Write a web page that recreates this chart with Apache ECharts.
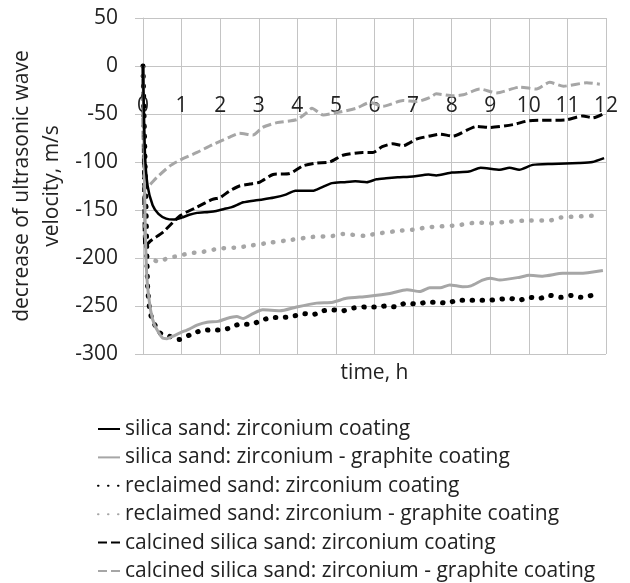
<!DOCTYPE html>
<html>
<head>
<meta charset="utf-8">
<script src="https://cdn.jsdelivr.net/npm/echarts@6/dist/echarts.min.js"></script>
<style>html,body{margin:0;padding:0;background:#fff}#c{width:630px;height:583px}</style>
</head>
<body>
<div id="c"></div>
<script>
const seriesNames = [
  'silica sand: zirconium coating',
  'silica sand: zirconium - graphite coating',
  'reclaimed sand: zirconium coating',
  'reclaimed sand: zirconium - graphite coating',
  'calcined silica sand: zirconium coating',
  'calcined silica sand: zirconium - graphite coating'
];
const xTicks = [0, 12, 1];      // min, max, interval (h)
const yTicks = [-300, 50, 50];  // min, max, interval (m/s)

const silicaZr = [[0,0],[0.05,-90],[0.12,-125],[0.25,-145],[0.4,-154],[0.6,-159],[0.8,-160],[1.0,-158],[1.2,-155],[1.4,-153],[1.7,-152],[1.9,-151],[2.1,-149],[2.3,-147],[2.6,-142],[2.9,-140],[3.1,-139],[3.4,-137],[3.7,-134],[3.95,-130],[4.4,-130],[4.6,-127],[4.9,-122],[5.2,-121],[5.5,-120],[5.8,-121],[6.05,-118],[6.3,-117],[6.6,-116],[7.0,-115],[7.4,-113],[7.6,-114],[8.0,-111],[8.45,-110],[8.75,-106],[9.25,-108],[9.5,-106],[9.75,-108],[10.1,-103],[10.6,-102],[11.3,-101],[11.65,-100],[11.95,-96]];
const silicaZrGr = [[0,0],[0.05,-150],[0.1,-220],[0.2,-255],[0.3,-270],[0.5,-283],[0.62,-284],[0.8,-281],[0.96,-278],[1.2,-274],[1.4,-270],[1.66,-267],[1.95,-266],[2.17,-263],[2.43,-261],[2.6,-263],[2.85,-258],[3.1,-254],[3.55,-255],[3.98,-251],[4.5,-247],[4.92,-246],[5.27,-242],[5.8,-240],[6.4,-237],[6.84,-233],[7.18,-235],[7.43,-231],[7.7,-231],[7.95,-228],[8.3,-230],[8.5,-229],[8.8,-223],[9.0,-221],[9.25,-223],[9.77,-220],[10.0,-218],[10.36,-219],[10.88,-216],[11.32,-216],[11.92,-213]];
const reclaimedZr = [[0,0],[0.08,-150],[0.12,-230],[0.18,-256],[0.26,-266],[0.44,-278],[0.65,-281],[0.93,-285],[1.22,-280],[1.48,-276],[1.74,-275],[2.0,-275],[2.25,-273],[2.5,-269],[2.8,-269],[3.07,-265],[3.34,-262],[3.6,-262],[3.86,-261],[4.15,-258],[4.4,-259],[4.67,-255],[4.92,-254],[5.18,-255],[5.47,-252],[5.75,-251],[6.0,-251],[6.3,-250],[6.56,-251],[6.8,-247],[7.1,-248],[7.36,-246],[7.6,-246],[7.88,-247],[8.15,-244],[8.4,-244],[8.68,-244],[8.94,-244],[9.22,-243],[9.5,-242],[9.75,-244],[10.0,-241],[10.28,-242],[10.55,-239],[10.83,-241],[11.1,-239],[11.35,-241],[11.63,-239]];
const reclaimedZrGr = [[0,0],[0.05,-150],[0.1,-198],[0.24,-201],[0.4,-204],[0.65,-200],[0.9,-198],[1.22,-195],[1.5,-194],[1.74,-192],[2.0,-190],[2.46,-189],[2.8,-187],[3.3,-184],[3.86,-181],[4.4,-178],[4.92,-177],[5.18,-175],[5.75,-177],[6.0,-175],[6.57,-172],[7.1,-170],[7.36,-168],[8.13,-166],[8.68,-163],[8.94,-164],[9.5,-162],[10.0,-161],[10.54,-161],[10.8,-158],[11.63,-156]];
const calcinedZr = [[0,0],[0.05,-188],[0.2,-182],[0.52,-173],[0.96,-156],[1.4,-147],[1.8,-139],[2.0,-137],[2.25,-130],[2.5,-125],[2.77,-123],[3.03,-121],[3.37,-113],[3.8,-112],[4.15,-104],[4.5,-101],[4.84,-100],[5.18,-93],[5.7,-90],[5.96,-90],[6.2,-84],[6.47,-81],[6.74,-83],[7.1,-76],[7.43,-73],[7.7,-71],[8.03,-73],[8.65,-63],[8.99,-64],[9.6,-61],[10.0,-57],[10.97,-56],[11.4,-52],[11.66,-54],[11.92,-50]];
const calcinedZrGr = [[0,0],[0.05,-128],[0.15,-125],[0.36,-116],[0.7,-104],[0.96,-98],[1.4,-90],[1.8,-82],[2.25,-74],[2.5,-70],[2.85,-72],[3.1,-64],[3.47,-59],[3.98,-56],[4.2,-50],[4.38,-44],[4.67,-51],[5.1,-48],[5.53,-44],[5.88,-38],[6.22,-42],[6.74,-36],[7.1,-37],[7.43,-33],[7.6,-29],[8.03,-31],[8.3,-30],[8.73,-24],[9.17,-28],[9.77,-22],[10.2,-24],[10.54,-17],[10.9,-21],[11.5,-17.5],[11.84,-19]];

const FONT = '"Open Sans"';
const FS = 21;
const BLACK = '#000000', GRAY = '#a6a6a6', GRID = '#c4c4c4', TXT = '#222222';
const styles = [
  {color: BLACK, width: 2.5, type: 'solid', cap: 'butt'},
  {color: GRAY, width: 3, type: 'solid', cap: 'butt'},
  {color: BLACK, width: 5, type: [0.5, 9.5], cap: 'round'},
  {color: GRAY, width: 4.5, type: [0.5, 9.5], cap: 'round'},
  {color: BLACK, width: 3, type: [9, 4], cap: 'butt'},
  {color: GRAY, width: 3, type: [9, 4], cap: 'butt'}
];
const datasets = [silicaZr, silicaZrGr, reclaimedZr, reclaimedZrGr, calcinedZr, calcinedZrGr];

const chart = echarts.init(document.getElementById('c'), null, {renderer: 'canvas'});
chart.setOption({
  animation: false,
  backgroundColor: '#ffffff',
  grid: {left: 143, right: 24, top: 18, bottom: 229, containLabel: false, outerBoundsMode: 'none'},
  xAxis: {
    type: 'value', min: xTicks[0], max: xTicks[1], interval: xTicks[2],
    position: 'bottom', offset: -288,
    name: 'time, h', nameLocation: 'middle', nameGap: 297, nameMoveOverlap: false,
    nameTextStyle: {fontFamily: FONT, fontSize: FS, color: TXT},
    axisLine: {onZero: false, show: false},
    axisTick: {show: false},
    axisLabel: {margin: 30, fontFamily: FONT, fontSize: FS, color: TXT},
    splitLine: {show: true, lineStyle: {color: GRID, width: 1}}
  },
  yAxis: {
    type: 'value', min: yTicks[0], max: yTicks[1], interval: yTicks[2],
    name: 'decrease of ultrasonic wave\nvelocity, m/s', nameLocation: 'middle', nameGap: 76, nameRotate: 90,
    nameMoveOverlap: false,
    nameTextStyle: {fontFamily: FONT, fontSize: FS, color: TXT, lineHeight: 30},
    axisLine: {show: true, onZero: false, lineStyle: {color: GRID, width: 1}},
    axisTick: {show: true, inside: false, length: 8, lineStyle: {color: GRID}},
    axisLabel: {margin: 25, fontFamily: FONT, fontSize: FS, color: TXT},
    splitLine: {show: true, lineStyle: {color: GRID, width: 1}}
  },
  legend: {
    orient: 'vertical', left: 97, top: 418.5, height: 164, padding: 0,
    itemWidth: 22, itemHeight: 6, itemGap: 7.4,
    itemStyle: {opacity: 0},
    textStyle: {fontFamily: FONT, fontSize: FS, color: TXT},
    data: seriesNames
  },
  series: datasets.map((d, i) => ({
    name: seriesNames[i], type: 'line', data: d, showSymbol: false, symbol: 'none',
    smooth: 0.2, z: 10 - i,
    lineStyle: {color: styles[i].color, width: styles[i].width, type: styles[i].type, cap: styles[i].cap, join: 'round'},
    itemStyle: {color: styles[i].color}
  }))
});
</script>
</body>
</html>
